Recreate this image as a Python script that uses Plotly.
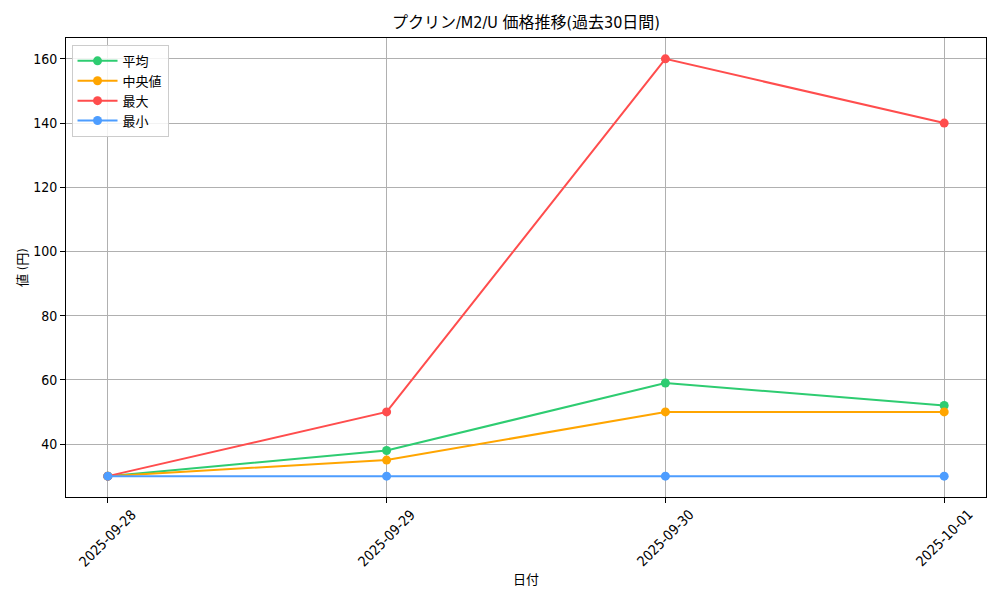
import plotly.graph_objects as go

dates = ["2025-09-28", "2025-09-29", "2025-09-30", "2025-10-01"]
avg_vals = [30, 38, 59, 52]
median_vals = [30, 35, 50, 50]
max_vals = [30, 50, 160, 140]
min_vals = [30, 30, 30, 30]
y_ticks = [40, 60, 80, 100, 120, 140, 160]

series = [
    ("平均", avg_vals, "#2ecc71"),
    ("中央値", median_vals, "#ffa500"),
    ("最大", max_vals, "#ff4d4d"),
    ("最小", min_vals, "#4d9dff"),
]

FONT = "Liberation Sans Narrow, Arial Narrow, DejaVu Sans Condensed, Noto Sans CJK JP"
xs = list(range(len(dates)))

fig = go.Figure()
for name, vals, color in series:
    fig.add_trace(go.Scatter(
        x=xs, y=vals, name=name, mode="lines+markers",
        line=dict(color=color, width=2),
        marker=dict(color=color, size=9),
    ))

for i, d in enumerate(dates):
    fig.add_annotation(
        x=i, y=0, xref="x", yref="paper", text=d, showarrow=False,
        textangle=-45, xanchor="center", yanchor="top", yshift=-7,
        font=dict(family=FONT, size=14, color="#000"),
    )

fig.update_layout(
    width=992, height=592,
    margin=dict(l=58, r=14, t=30, b=103),
    paper_bgcolor="white", plot_bgcolor="white",
    font=dict(family=FONT, size=13, color="#000"),
    title=dict(text="プクリン/M2/U 価格推移(過去30日間)", x=0.5, xref="paper",
               y=1 - 14 / 592, yanchor="middle", font=dict(size=16, family=FONT)),
    showlegend=True,
    legend=dict(x=0.006, y=0.985, xanchor="left", yanchor="top",
                bgcolor="rgba(255,255,255,0.85)", bordercolor="#cccccc",
                borderwidth=1, font=dict(size=13, family=FONT),
                tracegroupgap=2, itemwidth=40),
    xaxis=dict(
        range=[-0.15, 3.15], tickvals=xs, ticktext=[""] * len(dates),
        showgrid=True, gridcolor="#b0b0b0", gridwidth=1,
        showline=True, linecolor="black", linewidth=1, mirror=True,
        ticks="outside", ticklen=5, tickcolor="black", zeroline=False,
        automargin=False,
        title=dict(text="日付", standoff=70, font=dict(size=13)),
    ),
    yaxis=dict(
        range=[23.5, 166.5], tickvals=y_ticks,
        showgrid=True, gridcolor="#b0b0b0", gridwidth=1,
        showline=True, linecolor="black", linewidth=1, mirror=True,
        ticks="outside", ticklen=5, tickcolor="black", zeroline=False,
        automargin=False,
        tickfont=dict(size=14),
        title=dict(text="値 (円)", standoff=2, font=dict(size=13)),
    ),
)

fig.write_html("out.html")
